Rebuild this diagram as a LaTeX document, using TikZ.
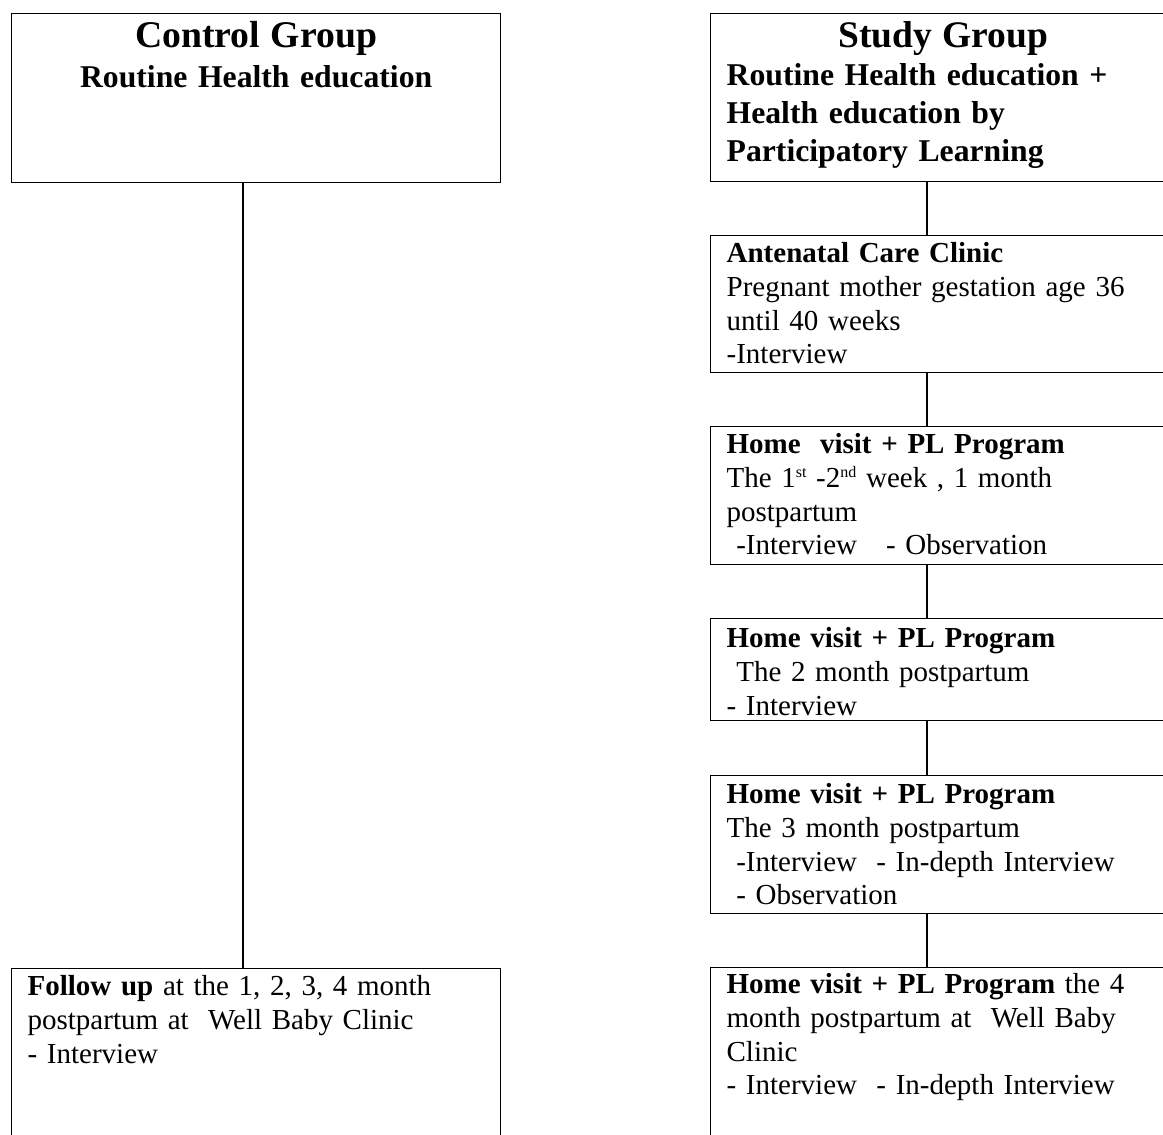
\documentclass[tikz,border=0pt]{standalone}
\usepackage{fontspec}
\setmainfont{Liberation Serif}
\newcommand{\ordsup}[1]{\raisebox{0.75ex}{\fontsize{16}{16}\selectfont #1}}

\begin{document}
\begin{tikzpicture}[x=1pt,y=-1pt,
    stage/.style={draw,line width=1.3pt,anchor=north west,align=left,inner xsep=16pt,inner ysep=0pt,font=\fontsize{29}{33.7}\selectfont},
    leftbox/.style={stage,text width=457pt},
    rightbox/.style={stage,text width=433pt},
    link/.style={line width=1.3pt}]
    \useasboundingbox (0,0) rectangle (1163,1135);
    \fill[white] (0,0) rectangle (1163,1135);
    \clip (0,0) rectangle (1163,1135);

    % Control group column
    \node[leftbox,align=center,text height=34pt,text depth=135pt,font=\fontsize{31.7}{40}\selectfont\bfseries] (ctl) at (11,13)
      {{\fontsize{37.7}{40}\selectfont Control Group}\\Routine Health education};
    \node[leftbox,text height=27pt,text depth=170pt] (fol) at (11,968)
      {\textbf{Follow up} at the 1, 2, 3, 4 month\\postpartum at~ Well Baby Clinic\\- Interview};

    % Study group column
    \node[rightbox,text height=34pt,text depth=134pt,font=\fontsize{31.7}{38}\selectfont\bfseries] (std) at (710,13)
      {\makebox[\linewidth]{\fontsize{37.5}{38}\selectfont Study Group}\\Routine Health education +\\Health education by\\Participatory Learning};
    \node[rightbox,text height=27pt,text depth=110pt] (anc) at (710,235)
      {\textbf{Antenatal Care Clinic}\\Pregnant mother gestation age 36\\until 40 weeks\\-Interview};
    \node[rightbox,text height=27pt,text depth=111pt] (hv1) at (710,426)
      {\textbf{Home~ visit + PL Program}\\The 1\ordsup{st} -2\ordsup{nd} week , 1 month\\postpartum\\~-Interview~~ - Observation};
    \node[rightbox,text height=29pt,text depth=73pt] (hv2) at (710,618)
      {\textbf{Home visit + PL Program}\\~The 2 month postpartum\\- Interview};
    \node[rightbox,text height=28pt,text depth=110pt] (hv3) at (710,775)
      {\textbf{Home visit + PL Program}\\The 3 month postpartum\\~-Interview~ - In-depth Interview\\~- Observation};
    \node[rightbox,text height=26pt,text depth=170pt] (hv4) at (710,967)
      {\textbf{Home visit + PL Program} the 4\\month postpartum at~ Well Baby\\Clinic\\- Interview~ - In-depth Interview};

    % Connectors
    \draw[link] ([xshift=232pt]ctl.south west) -- ([xshift=232pt]fol.north west);
    \foreach \a/\b in {std/anc,anc/hv1,hv1/hv2,hv2/hv3,hv3/hv4}
      \draw[link] ([xshift=217pt]\a.south west) -- ([xshift=217pt]\b.north west);
  \end{tikzpicture}
\end{document}
